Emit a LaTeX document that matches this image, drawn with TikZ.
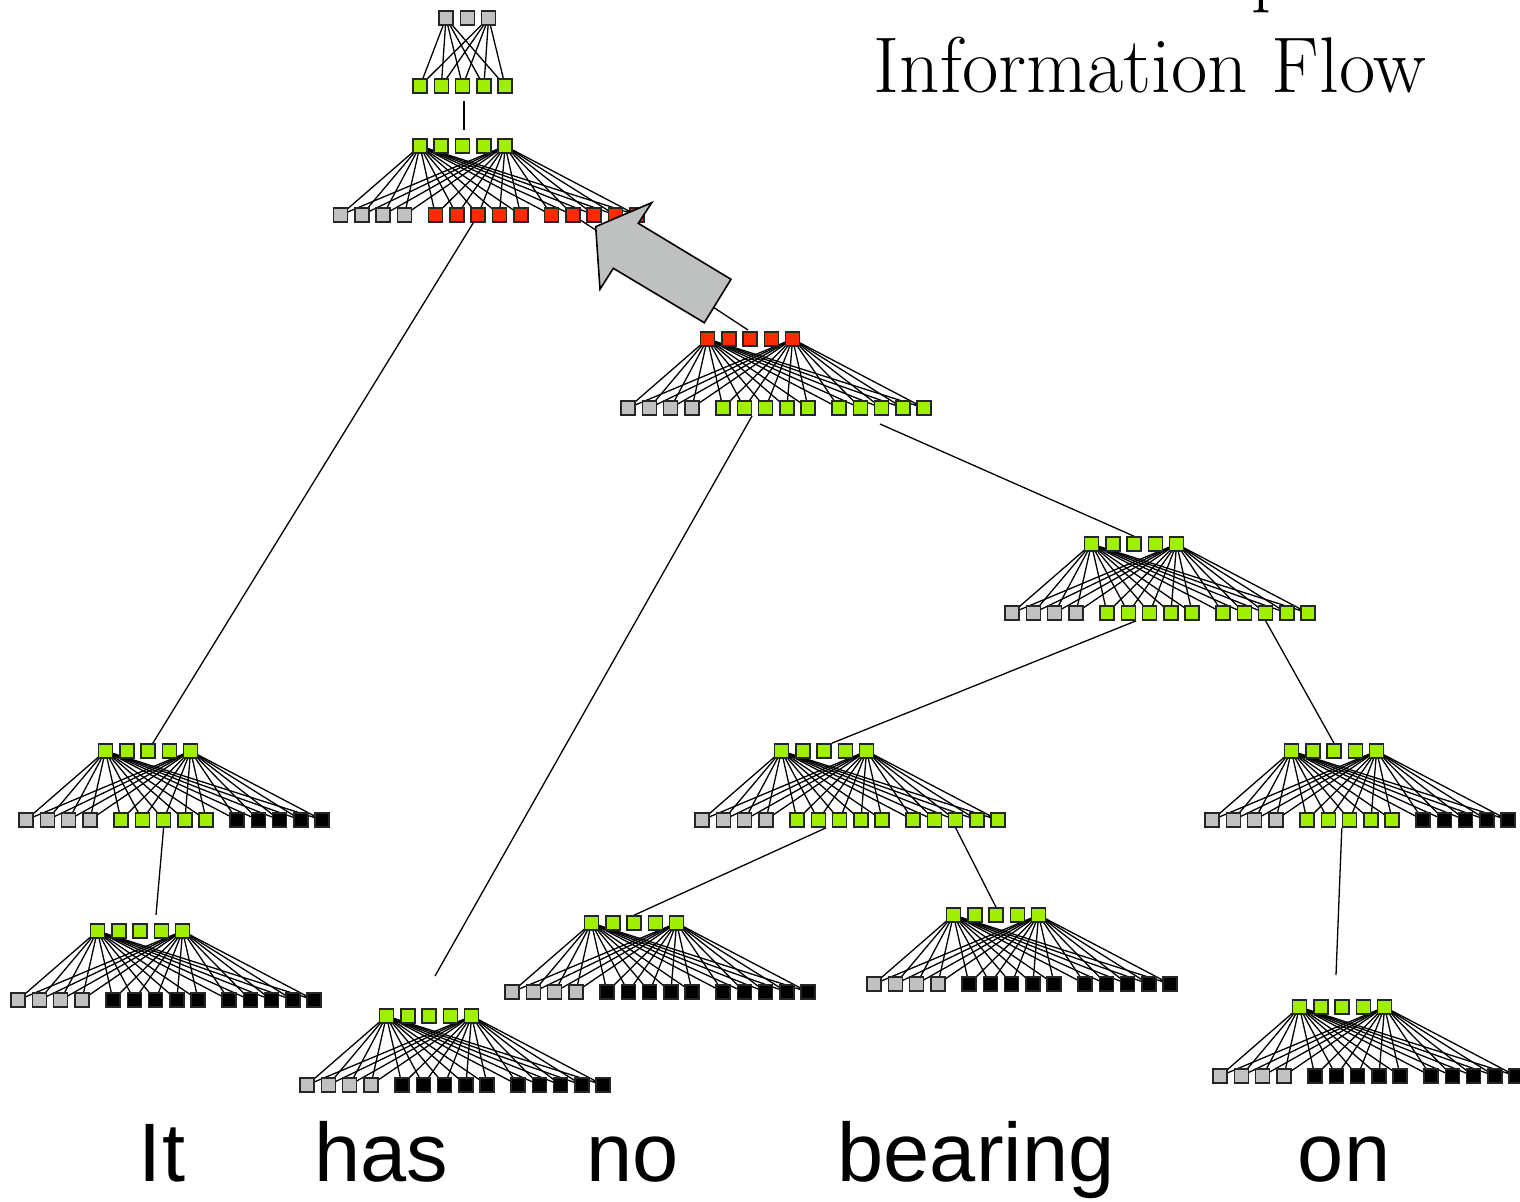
\documentclass[tikz,border=0pt]{standalone}
\usepackage{fontspec}
\usetikzlibrary{backgrounds}
\newfontfamily\wordfont{Liberation Sans}

\definecolor{leaf}{RGB}{160,238,0}
\definecolor{hot}{RGB}{255,42,0}
\definecolor{pale}{RGB}{192,193,192}
\definecolor{arrowgrey}{RGB}{191,193,192}

\tikzset{
  sq/.style={rectangle, draw=black!85, line width=0.8pt, minimum size=7pt, inner sep=0pt},
  greensq/.style={fill=leaf},
  redsq/.style={fill=hot},
  greysq/.style={fill=pale},
  blacksq/.style={fill=black},
  fanline/.style={line width=0.65pt},
  link/.style={line width=0.65pt},
  bigarrow/.style={fill=arrowgrey, draw=black, line width=0.8pt, line join=miter},
  word/.style={font=\wordfont\fontsize{41.5}{48}\selectfont, inner sep=0pt, anchor=base},
  heading/.style={font=\fontsize{39.5}{47}\selectfont, inner sep=0pt},
}

% One tree cell: a row of five squares over a row of fourteen
% (four grey, then two groups of five), fully wired from the outer top squares.
% #1 name, #2 x, #3 y, #4 top colour, #5 second group colour, #6 third group colour
\newcommand{\treeunit}[6]{%
  \foreach \k in {1,...,5}
    \node[sq,#4] (#1-t\k) at ({#2+(\k-3)*21.3},{#3}) {};
  \foreach \k in {1,...,4}
    \node[sq,greysq] (#1-b\k) at ({#2-122+(\k-1)*21.3},{#3+69}) {};
  \foreach \k in {5,...,9}
    \node[sq,#5] (#1-b\k) at ({#2-27+(\k-5)*21.3},{#3+69}) {};
  \foreach \k in {10,...,14}
    \node[sq,#6] (#1-b\k) at ({#2+89+(\k-10)*21.3},{#3+69}) {};
  \begin{scope}[on background layer]
    \foreach \k in {1,...,14}
      \draw[fanline] (#1-t1.center) -- (#1-b\k.center) (#1-t5.center) -- (#1-b\k.center);
  \end{scope}%
}

\begin{document}
\begin{tikzpicture}[x=0.5pt,y=-0.5pt]
\useasboundingbox (0,0) rectangle (1520,1201);

% heading
\node[heading, anchor=base east] (headA) at (1292,-3) {Bottom-up};
\node[heading, anchor=base] (headB) at (1150,92) {Information Flow};

% top cell: three grey squares feeding five green ones
\foreach \k in {1,2,3}
  \node[sq,greysq] (T-g\k) at ({446+(\k-1)*21.3},18) {};
\foreach \k in {1,...,5}
  \node[sq,greensq] (T-s\k) at ({420+(\k-1)*21.3},86) {};
\begin{scope}[on background layer]
  \foreach \k in {1,...,5}
    \draw[fanline] (T-g1.center) -- (T-s\k.center) (T-g3.center) -- (T-s\k.center);
\end{scope}

% tree cells
\treeunit{Root}{462.5}{146}{greensq}{redsq}{redsq}
\treeunit{Mid}{750}{339}{redsq}{greensq}{greensq}
\treeunit{A}{148}{751}{greensq}{greensq}{blacksq}
\treeunit{B}{140}{931}{greensq}{blacksq}{blacksq}
\treeunit{C}{429}{1016}{greensq}{blacksq}{blacksq}
\treeunit{D}{1134}{544}{greensq}{greensq}{greensq}
\treeunit{E}{824}{751}{greensq}{greensq}{greensq}
\treeunit{F}{1334}{751}{greensq}{greensq}{blacksq}
\treeunit{G}{634}{923}{greensq}{blacksq}{blacksq}
\treeunit{H}{996}{915}{greensq}{blacksq}{blacksq}
\treeunit{I}{1342}{1007}{greensq}{blacksq}{blacksq}

% loose connector ends
\coordinate (T-out) at (464,101);
\coordinate (Root-in) at (464,130);
\coordinate (Mid-in) at (748,330);
\coordinate (Mid-out) at (880,424);
\coordinate (C-in) at (435,976);
\coordinate (B-in) at (156,915);
\coordinate (I-in) at (1336,975);

% connectors between cells
\begin{scope}[on background layer]
  \draw[link] (T-out) -- (Root-in);
  \draw[link] (Root-b7.center) -- (A-t3.center);
  \draw[link] (Root-b11.center) -- (Mid-in);
  \draw[link] (Mid-b6.south east) -- (C-in);
  \draw[link] (Mid-out) -- (D-t3.north);
  \draw[link] (D-b6.south east) -- (E-t3.north east);
  \draw[link] (D-b12.south) -- (F-t3.north);
  \draw[link] (E-b6.south east) -- (G-t3.north);
  \draw[link] (E-b12.south) -- (H-t3.north);
  \draw[link] (F-b7.south west) -- (I-in);
  \draw[link] (A-b7.south) -- (B-in);
\end{scope}

% block arrow
\draw[bigarrow] (595.7,226.7) -- (651.7,202.7) -- (638.3,223.3) -- (731,279.3)
  -- (704.3,322.7) -- (613.3,268.3) -- (600,289.3) -- cycle;

% words
\node[word] (w1) at (162,1181) {It};
\node[word] (w2) at (381,1181) {has};
\node[word] (w3) at (633,1181) {no};
\node[word] (w4) at (976,1181) {bearing};
\node[word] (w5) at (1344,1181) {on};
\end{tikzpicture}
\end{document}
